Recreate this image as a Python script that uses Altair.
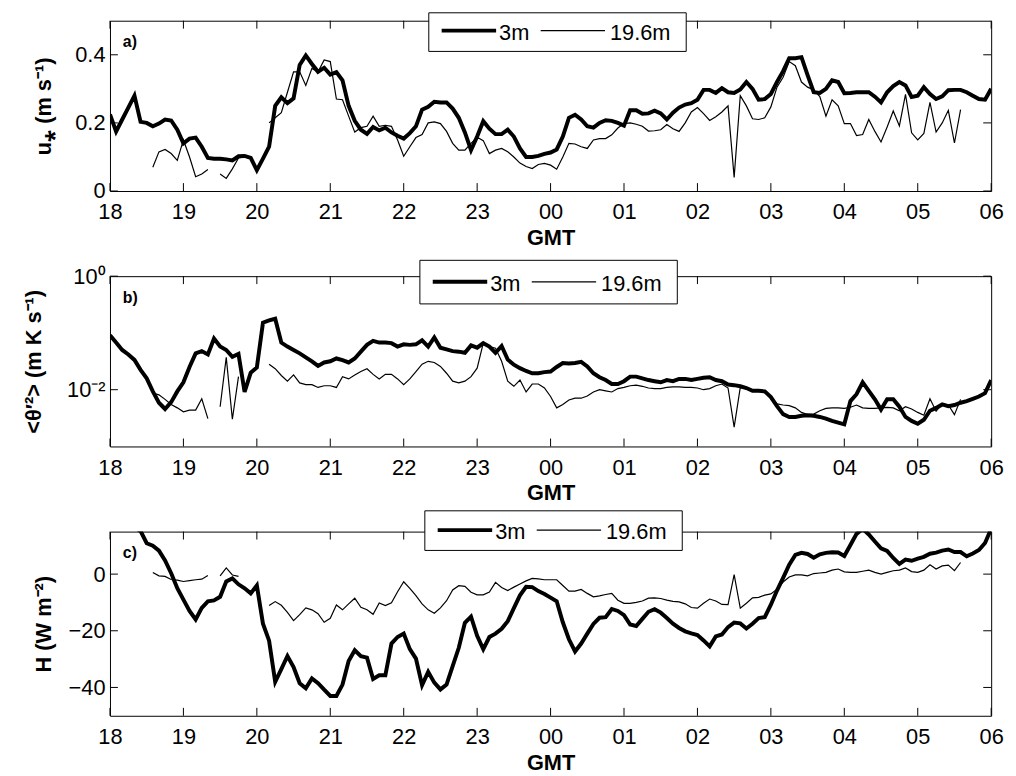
import altair as alt
import pandas as pd

_ = None
SERIES = ["3m", "19.6m"]
HOUR_TICKS = list(range(18, 31))
N = 145
TIME_H = [18 + k / 12 for k in range(N)]  # 5-minute samples, 18 GMT -> 06 GMT

# ---- panel a: u* (m/s)
USTAR_3M = [
    0.225, 0.175, 0.21, 0.245, 0.28, 0.203, 0.200, 0.19, 0.198, 0.21,
    0.207, 0.18, 0.14, 0.154, 0.157, 0.13, 0.097, 0.095, 0.095, 0.093,
    0.09, 0.102, 0.103, 0.097, 0.061, 0.095, 0.13, 0.25, 0.275, 0.258,
    0.272, 0.37, 0.398, 0.373, 0.35, 0.362, 0.342, 0.349, 0.325, 0.25,
    0.206, 0.18, 0.168, 0.188, 0.178, 0.186, 0.172, 0.162, 0.154, 0.17,
    0.19, 0.239, 0.247, 0.262, 0.26, 0.26, 0.242, 0.215, 0.172, 0.12,
    0.16, 0.205, 0.183, 0.167, 0.167, 0.18, 0.16, 0.125, 0.10, 0.10,
    0.103, 0.109, 0.113, 0.122, 0.16, 0.215, 0.224, 0.21, 0.19, 0.186,
    0.20, 0.208, 0.206, 0.20, 0.192, 0.237, 0.237, 0.227, 0.228, 0.236,
    0.228, 0.21, 0.23, 0.245, 0.254, 0.258, 0.268, 0.297, 0.297, 0.288,
    0.302, 0.29, 0.288, 0.298, 0.32, 0.30, 0.268, 0.27, 0.285, 0.32,
    0.352, 0.39, 0.39, 0.393, 0.34, 0.29, 0.288, 0.30, 0.325, 0.32,
    0.287, 0.288, 0.29, 0.29, 0.29, 0.277, 0.26, 0.29, 0.308, 0.32,
    0.31, 0.276, 0.28, 0.305, 0.285, 0.27, 0.278, 0.296, 0.297, 0.297,
    0.29, 0.28, 0.27, 0.268, 0.30,
]
USTAR_196M = [
    _, _, _, _, _, _, _,
    0.07, 0.115, 0.122, 0.11, 0.09, 0.15, 0.10, 0.042, 0.05, 0.063,
    _,
    0.05, 0.037, 0.065, 0.097, 0.10, 0.10,
    _, _,
    0.20, 0.215, 0.23, 0.29, 0.35, 0.35, 0.31, 0.36, 0.35, 0.385,
    0.38, 0.27, 0.268, 0.22, 0.173, 0.186, 0.19, 0.22, 0.19, 0.193,
    0.19, 0.15, 0.102, 0.13, 0.157, 0.166, 0.2, 0.203, 0.198, 0.175,
    0.14, 0.12, 0.12, 0.14, 0.158, 0.148, 0.11, 0.12, 0.125, 0.115,
    0.10, 0.082, 0.072,
    0.066, 0.078, 0.081, 0.076, 0.064, 0.10, 0.14, 0.138, 0.13, 0.125,
    0.15, 0.154, 0.154, 0.165, 0.185, 0.198, 0.2, 0.196, 0.19, 0.176,
    0.177, 0.18, 0.195, 0.183, 0.175, 0.2, 0.232, 0.245, 0.227, 0.207,
    0.218, 0.232, 0.25, 0.04, 0.28, 0.25, 0.212, 0.21, 0.215, 0.247,
    0.305, 0.334, 0.38, 0.368, 0.32, 0.305, 0.297, 0.277, 0.22, 0.268,
    0.25, 0.198, 0.198, 0.163, 0.166, 0.21, 0.175, 0.144, 0.188, 0.235,
    0.191, 0.284, 0.171, 0.15, 0.169, 0.26, 0.173, 0.2, 0.237, 0.141,
    0.239,
    _, _, _, _, _,
]

# ---- panel b: <theta'^2>, read as log10 of the plotted value
THETA_3M_LOG10 = [
    -1.04, -1.17, -1.30, -1.38, -1.475, -1.65, -1.80, -2.03, -2.23, -2.34,
    -2.22, -2.03, -1.87, -1.60, -1.36, -1.32, -1.38, -1.10, -1.24, -1.30,
    -1.42, -1.37, -2.04, -1.70, -1.61, -0.82, -0.78, -0.75, -1.17, -1.24,
    -1.30, -1.36, -1.43, -1.50, -1.58, -1.52, -1.50, -1.45, -1.48, -1.52,
    -1.45, -1.33, -1.21, -1.14, -1.17, -1.17, -1.18, -1.24, -1.20, -1.21,
    -1.20, -1.13, -1.24, -1.08, -1.26, -1.29, -1.32, -1.33, -1.35, -1.22,
    -1.26, -1.18, -1.24, -1.35, -1.23, -1.47, -1.56, -1.62, -1.67, -1.71,
    -1.71, -1.69, -1.68, -1.60, -1.53, -1.54, -1.53, -1.51, -1.59, -1.71,
    -1.78, -1.83, -1.90, -1.90, -1.85, -1.77, -1.77, -1.80, -1.83, -1.85,
    -1.87, -1.83, -1.85, -1.81, -1.81, -1.83, -1.81, -1.79, -1.78, -1.83,
    -1.85, -1.91, -1.92, -1.94, -1.97, -2.02, -2.02, -2.03, -2.13, -2.29,
    -2.43, -2.48, -2.48, -2.46, -2.45, -2.46, -2.48, -2.51, -2.55, -2.58,
    -2.61, -2.20, -2.08, -1.87, -2.02, -2.17, -2.35, -2.17, -2.17, -2.30,
    -2.48, -2.55, -2.60, -2.53, -2.37, -2.32, -2.26, -2.29, -2.27, -2.23,
    -2.20, -2.16, -2.12, -2.06, -1.83,
]
THETA_196M_LOG10 = [
    _, _, _, _, _, _, _,
    -2.06, -2.09, -2.17, -2.26, -2.32, -2.39, -2.36, -2.36, -2.16, -2.51,
    _,
    -2.30, -1.43, -2.52, -1.77,
    _, _, _, _,
    -1.55, -1.63, -1.75, -1.85, -1.74, -1.88, -1.91, -1.91, -1.96, -1.93,
    -1.93, -1.96, -1.77, -1.81, -1.74, -1.68, -1.63, -1.73, -1.81, -1.73,
    -1.73, -1.81, -1.91, -1.81, -1.68, -1.55, -1.50, -1.52, -1.59, -1.71,
    -1.85, -1.88, -1.85, -1.77, -1.62, -1.18, -1.24, -1.27, -1.50, -1.85,
    -1.94, -1.83, -2.04,
    -1.90, -1.90, -1.97, -2.12, -2.32, -2.26, -2.18, -2.15, -2.15, -2.11,
    -2.04, -2.00, -2.02, -2.04, -1.98, -1.96, -1.93, -1.92, -1.94, -1.97,
    -1.98, -1.98, -1.96, -1.95, -1.95, -1.96, -1.96, -1.97, -2.00, -1.98,
    -1.93, -1.90, -1.97, -2.66, -1.96, -1.97, -2.00, -2.03, -2.03, -2.15,
    -2.25, -2.27, -2.28, -2.32, -2.40, -2.44, -2.43, -2.37, -2.33, -2.32,
    -2.32, -2.33, -2.31, -2.27, -2.32, -2.33, -2.33, -2.32, -2.31, -2.32,
    -2.37, -2.30, -2.34, -2.40, -2.45, -2.16, -2.38, -2.25, -2.27, -2.44,
    -2.17,
    _, _, _, _, _,
]

# ---- panel c: H (W/m2)
H_3M = [
    24.0, 22.0, 20.0, 18.0, 16.5,
    15.2, 10.9, 10.0, 8.3, 4.8, 0.3, -5.0, -9.0, -13.0, -16.0,
    -11.9, -9.6, -9.3, -8.0, -2.6, -1.5, -3.6, -5.0, -6.8, -4.0,
    -17.5, -23.5, -38.0, -33.5, -28.9, -32.8, -38.5, -40.3, -36.8, -38.5,
    -40.8, -43.0, -43.0, -39.0, -30.7, -26.9, -29.0, -29.5, -37.0, -35.7,
    -35.7, -24.5, -22.2, -21.0, -26.5, -29.8, -39.2, -34.5, -38.3, -40.7,
    -39.0, -32.5, -26.0, -17.2, -15.0, -21.8, -26.5, -22.2, -21.0, -19.3,
    -16.6, -12.0, -7.5, -4.5, -4.6, -6.0, -7.0, -8.3, -9.6, -17.0,
    -23.0, -27.3, -24.5, -21.0, -17.6, -15.4, -15.2, -12.3, -13.0, -14.5,
    -17.8, -18.3, -15.8, -13.3, -12.4, -13.6, -15.5, -17.5, -19.0, -20.2,
    -20.9, -21.5, -23.4, -25.5, -22.0, -21.3, -18.7, -17.1, -17.4, -19.2,
    -17.5, -15.5, -15.2, -10.8, -5.8, -1.3, 3.3, 6.8, 7.5, 7.1,
    5.8, 7.0, 7.5, 7.7, 7.6, 6.4, 10.3, 14.2, 16.0, 14.0,
    11.5, 9.1, 8.2, 5.7, 3.6, 5.1, 4.7, 5.5, 6.1, 7.2,
    7.6, 8.3, 8.7, 7.8, 7.8, 6.3, 7.3, 8.5, 11.0, 16.0,
]
H_196M = [
    _, _, _, _, _, _, _,
    0.6, -0.6, -0.8, -1.9, -2.1, -2.6, -2.3, -2.0, -1.8, -0.5,
    _,
    -0.6, 2.2, -0.3, -0.8,
    _, _, _, _,
    -11.1, -9.7, -11.0, -13.5, -16.4, -14.3, -11.9, -12.6, -14.0, -17.0,
    -15.6, -10.9, -12.6, -10.5, -8.5, -11.7, -12.6, -14.2, -10.2, -11.1,
    -10.1, -6.2, -2.7, -5.0, -7.6, -10.5, -12.6, -13.8, -11.9, -9.4,
    -5.6, -4.1, -4.3, -6.4, -7.3, -7.3, -6.3, -2.9, -4.7, -5.8,
    -4.6, -3.5, -2.4,
    -1.5, -1.7, -2.0, -2.0, -2.0, -4.0, -6.0, -6.0, -5.4, -6.8,
    -8.0, -7.7, -7.2, -6.8, -9.2, -10.3, -10.3, -10.0, -9.5, -8.5,
    -8.4, -8.6, -9.2, -9.6, -9.8, -10.5, -11.8, -12.0, -10.3, -8.8,
    -9.5, -10.7, -10.8, -0.2, -12.0, -10.3, -8.4, -8.2, -7.4, -7.0,
    -5.3, -2.8, -1.0, -0.3, -0.3, -0.6, 0.2, 0.4, 0.6, 1.4,
    1.8, 0.8, 0.6, 0.6, 1.0, 1.4, 0.6, 0.0, 0.6, 1.2,
    1.4, 2.2, 0.9, 0.6, 1.4, 3.3, 1.8, 2.9, 3.2, 1.2,
    4.1,
    _, _, _, _, _,
]

for arr in (USTAR_3M, USTAR_196M, THETA_3M_LOG10, THETA_196M_LOG10, H_3M, H_196M):
    assert len(arr) == N, len(arr)

FONT = "Liberation Sans"
W = 890
TICK = 8


def long_frame(pairs, log=False):
    rows = []
    for name, vals in pairs:
        seg = 0
        prev = None
        for t, v in zip(TIME_H, vals):
            if v is None:
                prev = None
                continue
            if prev is None:
                seg += 1
            prev = v
            rows.append({"t": t, "v": (10 ** v) if log else v,
                         "series": name, "seg": f"{name}-{seg}"})
    return pd.DataFrame(rows)


def panel(df, height, y_scale, y_ticks, y_title, y_title_x, y_label_expr,
          label, lg_dx, lg_top, lg_bottom, lg_mid):
    x_scale = alt.Scale(domain=[18, 30], nice=False, zero=False)
    x_axis = alt.Axis(values=HOUR_TICKS,
                      labelExpr="(datum.value % 24 < 10 ? '0' : '') + (datum.value % 24)",
                      title="GMT", ticks=False, tickSize=0, domain=False, grid=False,
                      labelPadding=11, titlePadding=5, labelFontSize=22, titleFontSize=22,
                      titleFontWeight="bold", labelFont=FONT, titleFont=FONT,
                      labelColor="black", titleColor="black", labelFlush=False,
                      labelOverlap=False)
    y_axis = alt.Axis(values=y_ticks, labelExpr=y_label_expr, title=y_title,
                      titleX=y_title_x, titleBaseline="alphabetic",
                      ticks=False, tickSize=0, domain=False, grid=False,
                      labelPadding=5, labelFontSize=22, titleFontSize=22,
                      titleFontWeight="bold", labelFont=FONT, titleFont=FONT,
                      labelColor="black", titleColor="black", labelFlush=False,
                      labelOverlap=False)
    lines = alt.Chart(df).mark_line(clip=True, color="black").encode(
        x=alt.X("t:Q", scale=x_scale, axis=x_axis),
        y=alt.Y("v:Q", scale=y_scale, axis=y_axis),
        strokeWidth=alt.StrokeWidth("series:N",
                                    scale=alt.Scale(domain=SERIES, range=[4, 1.2]),
                                    legend=None),
        detail="seg:N",
    )
    xt = pd.DataFrame({"t": HOUR_TICKS})
    yt = pd.DataFrame({"v": y_ticks})
    tick_b = alt.Chart(xt).mark_rule(color="black", strokeWidth=1).encode(
        x="t:Q", y=alt.value(height - TICK), y2=alt.value(height))
    tick_t = alt.Chart(xt).mark_rule(color="black", strokeWidth=1).encode(
        x="t:Q", y=alt.value(0), y2=alt.value(TICK))
    tick_l = alt.Chart(yt).mark_rule(color="black", strokeWidth=1).encode(
        y="v:Q", x=alt.value(0), x2=alt.value(TICK))
    tick_r = alt.Chart(yt).mark_rule(color="black", strokeWidth=1).encode(
        y="v:Q", x=alt.value(W - TICK), x2=alt.value(W))
    tag = alt.Chart(pd.DataFrame({"label": [label]})).mark_text(
        align="left", baseline="middle", fontSize=16, fontWeight="bold",
        font=FONT, color="black").encode(
        x=alt.value(13), y=alt.value(22), text="label:N")
    one = pd.DataFrame({"label": [SERIES[0]]})
    two = pd.DataFrame({"label": [SERIES[1]]})
    box = alt.Chart(one).mark_rect(fill="white", stroke="black", strokeWidth=1).encode(
        x=alt.value(322 + lg_dx), x2=alt.value(582 + lg_dx),
        y=alt.value(lg_top), y2=alt.value(lg_bottom))
    s1 = alt.Chart(one).mark_rule(color="black", strokeWidth=4).encode(
        x=alt.value(335 + lg_dx), x2=alt.value(390 + lg_dx), y=alt.value(lg_mid - 2))
    t1 = alt.Chart(one).mark_text(align="left", baseline="middle", fontSize=22,
                                  font=FONT, color="black").encode(
        x=alt.value(393 + lg_dx), y=alt.value(lg_mid), text="label:N")
    s2 = alt.Chart(two).mark_rule(color="black", strokeWidth=1.2).encode(
        x=alt.value(435 + lg_dx), x2=alt.value(500 + lg_dx), y=alt.value(lg_mid - 2))
    t2 = alt.Chart(two).mark_text(align="left", baseline="middle", fontSize=22,
                                  font=FONT, color="black").encode(
        x=alt.value(505 + lg_dx), y=alt.value(lg_mid), text="label:N")
    return alt.layer(lines, tick_b, tick_t, tick_l, tick_r, tag,
                     box, s1, t1, s2, t2).properties(width=W, height=height)


df_a = long_frame([(SERIES[0], USTAR_3M), (SERIES[1], USTAR_196M)])
df_b = long_frame([(SERIES[0], THETA_3M_LOG10), (SERIES[1], THETA_196M_LOG10)], log=True)
df_c = long_frame([(SERIES[0], H_3M), (SERIES[1], H_196M)])

pa = panel(df_a, 172, alt.Scale(domain=[0, 0.5], nice=False, zero=False),
           [0, 0.2, 0.4], "u\u204e (m s\u207b\u00b9)", -60, "format(datum.value, '~g')",
           "a)", 0, -8, 31, 12)
pb = panel(df_b, 172, alt.Scale(type="log", domain=[0.001, 1], nice=False),
           [0.01, 1], "<\u03b8\u2032\u00b2> (m K s\u207b\u00b9)", -70,
           "datum.value >= 1 ? '10\u2070' : '10\u207b\u00b2'",
           "b)", -9, -16, 28, 7.7)
pc = panel(df_c, 186, alt.Scale(domain=[-50, 15], nice=False, zero=False),
           [-40, -20, 0], "H (W m\u207b\u00b2)", -60, "format(datum.value, '~g')",
           "c)", -4, -21, 19, 0.5)

chart = alt.vconcat(pa, pb, pc, spacing=86, bounds="flush").properties(
    padding={"left": 14, "top": 0, "right": 4, "bottom": 0}
).configure_view(stroke="black", strokeWidth=1)

chart.save("out.html", embed_options={"renderer": "svg", "actions": False})
